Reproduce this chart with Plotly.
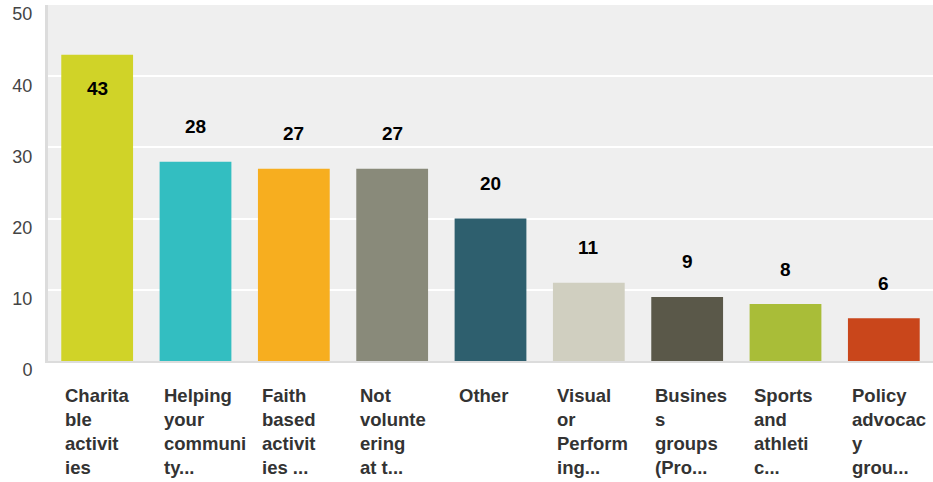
import plotly.graph_objects as go

categories = ["Charitable activities", "Helping your community", "Faith based activities",
              "Not volunteering at this time", "Other", "Visual or Performing arts",
              "Business groups (Professional)", "Sports and athletics", "Policy advocacy groups"]
tick_labels = ["Charita<br>ble<br>activit<br>ies", "Helping<br>your<br>communi<br>ty...",
               "Faith<br>based<br>activit<br>ies ...", "Not<br>volunte<br>ering<br>at t...",
               "Other", "Visual<br>or<br>Perform<br>ing...", "Busines<br>s<br>groups<br>(Pro...",
               "Sports<br>and<br>athleti<br>c...", "Policy<br>advocac<br>y<br>grou..."]
values = [43, 28, 27, 27, 20, 11, 9, 8, 6]
colors = ["#d0d328", "#33bec1", "#f7ae1f", "#898a7a", "#2e5f6e", "#d0cfc0", "#5a5849", "#a9bd38", "#c9461b"]

FONT = "Liberation Sans, Arial, sans-serif"

fig = go.Figure(go.Bar(x=categories, y=values, marker=dict(color=colors, line=dict(width=0)),
                       hoverinfo="skip"))

annotations = []
for c, v in zip(categories, values):
    inside = v > 40
    annotations.append(dict(x=c, y=v, xref="x", yref="y", text=f"<b>{v}</b>", showarrow=False,
                            yanchor="middle", yshift=-34 if inside else 35,
                            font=dict(family=FONT, size=19, color="#000000")))
for c, t in zip(categories, tick_labels):
    annotations.append(dict(x=c, y=0, xref="x", yref="paper", text=f"<b>{t}</b>", showarrow=False,
                            xanchor="left", yanchor="top", align="left", xshift=-34, yshift=-22,
                            font=dict(family=FONT, size=18.5, color="#333333")))

fig.update_layout(
    width=933, height=482,
    margin=dict(l=48, r=0, t=5, b=121),
    paper_bgcolor="#ffffff", plot_bgcolor="#efefef",
    bargap=0.27, showlegend=False,
    font=dict(family=FONT),
    annotations=annotations,
    xaxis=dict(showticklabels=False, ticks="", showgrid=False, zeroline=False,
               showline=True, linecolor="#dcdcdc", linewidth=2),
    yaxis=dict(range=[0, 50], tickvals=[0, 10, 20, 30, 40, 50], showgrid=True,
               gridcolor="#ffffff", gridwidth=2, zeroline=False,
               showline=True, linecolor="#dcdcdc", linewidth=3,
               ticks="", ticklabelshift=9, ticklabelstandoff=9, ticklabeloverflow="allow",
               tickfont=dict(family=FONT, size=18, color="#444444")),
)

fig.write_html("out.html", config={"displayModeBar": False},
               post_script="document.body.style.margin='0';document.body.style.overflow='hidden';")
